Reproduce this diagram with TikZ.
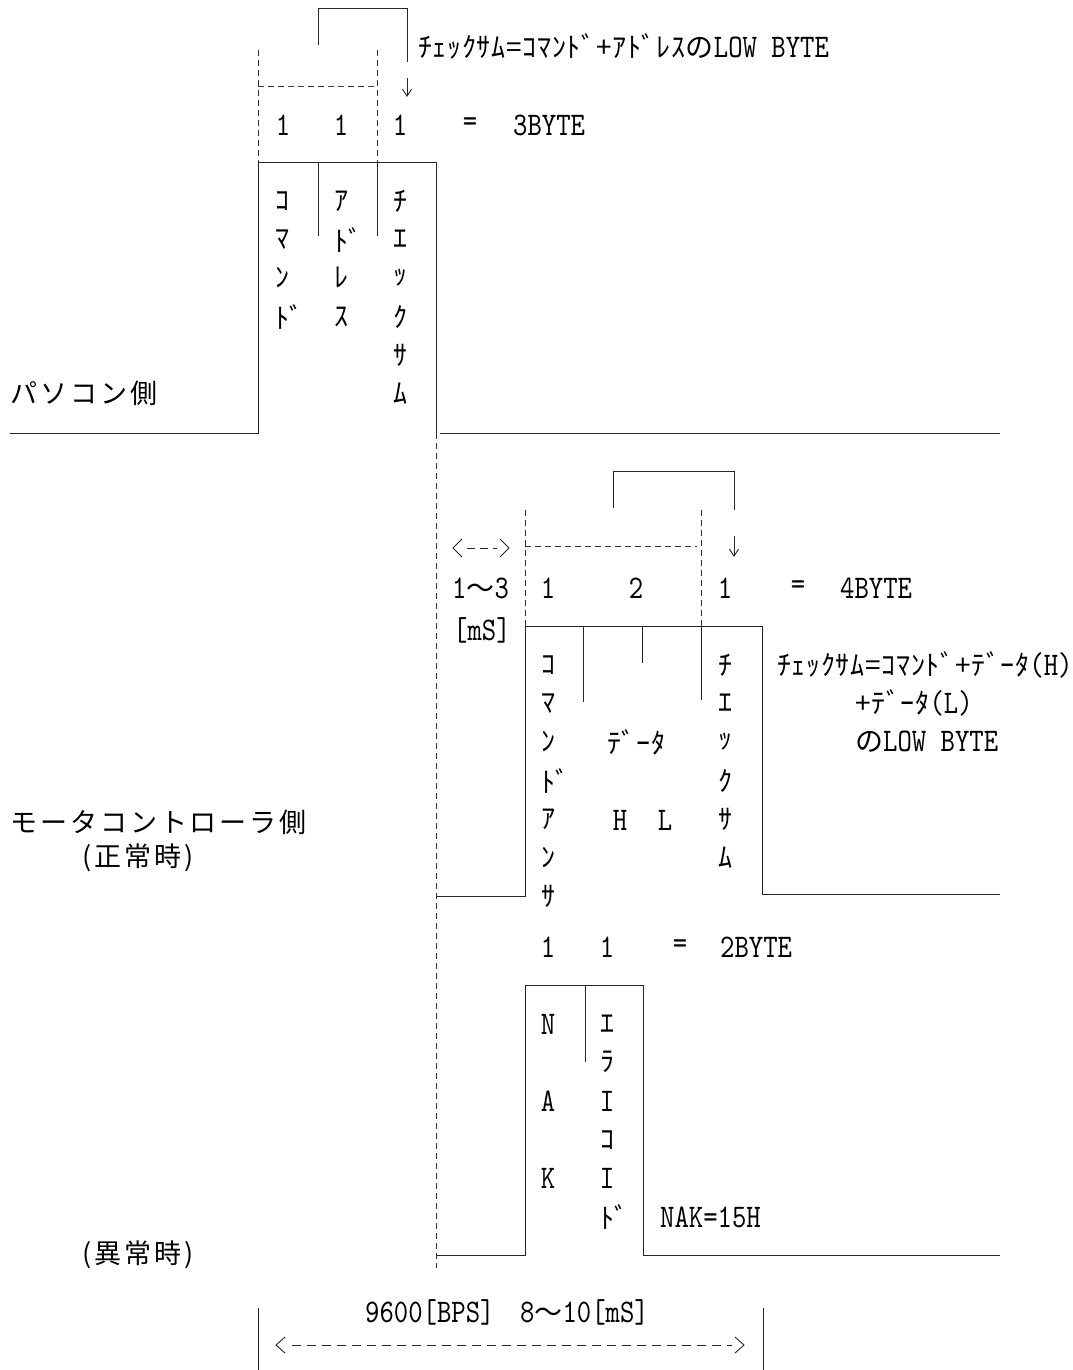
\documentclass[tikz,border=0pt]{standalone}
\usepackage{fontspec}
\usetikzlibrary{arrows.meta}
\newfontfamily\kt{Noto Sans CJK JP}
\newfontfamily\ktl[LetterSpace=2.5]{Noto Sans CJK JP}
\newfontfamily\jw[LetterSpace=11]{Noto Sans CJK JP}
\newfontfamily\lat[FakeStretch=0.83]{lmmono10-regular.otf}
\newcommand\ktxt{\ktl\fontsize{28}{32}\selectfont}
\newcommand\ltxt{\lat\fontsize{33}{36}\selectfont}
\newcommand\vcol[4]{%
  \foreach \c [count=\i from 0] in {#4}
    \node[k, anchor=west] (#1\i) at (#2-7, #3+38.5*\i) {\c};}
\tikzset{
  ln/.style={line width=0.9pt, draw=black!85},
  dsh/.style={line width=0.8pt, draw=black!80, dash pattern=on 6pt off 4pt},
  arr/.style={-{Straight Barb[length=7pt,width=9pt]}},
  k/.style={font=\kt\fontsize{28}{32}\selectfont, inner sep=0pt},
  txt/.style={inner sep=0pt, anchor=west},
  lt/.style={font=\ltxt, inner sep=0pt},
  jwt/.style={font=\jw\fontsize{27}{30}\selectfont, inner sep=0pt, anchor=west},
}
\begin{document}
\begin{tikzpicture}[x=1pt,y=-1pt]
\useasboundingbox (0,0) rectangle (1072,1370);
\fill[white] (0,0) rectangle (1072,1370);

% ---------------- PC side ----------------
\draw[ln] (10,433) -- (258,433) -- (258,162) -- (436,162) -- (436,433);
\draw[ln] (440,433) -- (1000,433);
\draw[ln] (318,162) -- (318,236);
\draw[ln] (377,162) -- (377,236);
\draw[dsh] (258,50) -- (258,162);
\draw[dsh] (377,50) -- (377,162);
\draw[dsh] (258,86) -- (377,86);
\draw[ln] (318,45) -- (318,8) -- (407,8) -- (407,62);
\draw[ln,arr] (407,78) -- (407,97);

\node[txt] (cs1) at (418,46) {\ktxt ﾁｪｯｸｻﾑ=ｺﾏﾝﾄﾞ+ｱﾄﾞﾚｽの\ltxt LOW BYTE};
\node[lt] (n1a) at (283,125) {1};
\node[lt] (n1b) at (341,125) {1};
\node[lt] (n1c) at (400,125) {1};
\node[lt] (eq1) at (470,125) {=};
\node[lt,anchor=west] (b3) at (513,125) {3BYTE};
\vcol{ca}{282}{201}{ｺ,ﾏ,ﾝ,ﾄﾞ}
\vcol{cb}{341}{201}{ｱ,ﾄﾞ,ﾚ,ｽ}
\vcol{cc}{400}{201}{ﾁ,ｴ,ｯ,ｸ,ｻ,ﾑ}
\node[jwt] (pc) at (10,393) {パソコン側};

% ---------------- Motor controller (normal) ----------------
\draw[dsh] (436,433) -- (436,1268);
\draw[ln] (436,896) -- (525,896) -- (525,626) -- (762,626) -- (762,894) -- (1000,894);
\draw[ln] (583,626) -- (583,702);
\draw[ln] (642,626) -- (642,663);
\draw[ln] (701,626) -- (701,700);
\draw[dsh] (525,510) -- (525,626);
\draw[dsh] (701,510) -- (701,626);
\draw[dsh] (525,546) -- (697,546);
\draw[ln] (613,508) -- (613,471) -- (734,471) -- (734,510);
\draw[ln,arr] (734,536) -- (734,557);

% <--> 1~3 [mS]
\draw[ln] (462,539) -- (453,548) -- (462,557);
\draw[ln, dash pattern=on 8pt off 5pt] (467,548) -- (497,548);
\draw[ln] (500,539) -- (509,548) -- (500,557);
\node[txt] (t13) at (452,588) {\ltxt 1\ktxt ～\ltxt 3};
\node[lt,anchor=west] (ms1) at (453,630) {[mS]};

\node[lt] (m1) at (548,588) {1};
\node[lt] (m2) at (636,588) {2};
\node[lt] (m3) at (725,588) {1};
\node[lt] (eq2) at (798,588) {=};
\node[lt,anchor=west] (b4) at (840,588) {4BYTE};
\vcol{cd}{548}{665}{ｺ,ﾏ,ﾝ,ﾄﾞ,ｱ,ﾝ,ｻ}
\node[txt] (data) at (607,742) {\ktxt ﾃﾞｰﾀ};
\node[lt] (hh) at (620,820) {H};
\node[lt] (ll) at (665,820) {L};
\vcol{ce}{725}{665}{ﾁ,ｴ,ｯ,ｸ,ｻ,ﾑ}
\node[txt] (cs2) at (777,665) {\ktxt ﾁｪｯｸｻﾑ=ｺﾏﾝﾄﾞ+ﾃﾞｰﾀ\ltxt (H)};
\node[txt] (cs3) at (855,703) {\ktxt +ﾃﾞｰﾀ\ltxt (L)};
\node[txt] (cs4) at (855,742) {\ktxt の\ltxt LOW BYTE};
\node[jwt] (mc) at (10,822) {モータコントローラ側};
\node[jwt] (nm) at (82,858) {(正常時)};

% ---------------- Motor controller (error) ----------------
\draw[ln] (436,1255) -- (525,1255) -- (525,985) -- (643,985) -- (643,1255) -- (1000,1255);
\draw[ln] (585,985) -- (585,1062);
\node[lt] (e1) at (548,947) {1};
\node[lt] (e2) at (607,947) {1};
\node[lt] (eq3) at (680,947) {=};
\node[lt,anchor=west] (b2) at (720,947) {2BYTE};
\node[lt] (na) at (548,1024) {N};
\node[lt] (nb) at (548,1101) {A};
\node[lt] (nc) at (548,1178) {K};
\node[k,anchor=west] (er0) at (600,1024) {ｴ};
\node[k,anchor=west] (er1) at (600,1062) {ﾗ};
\node[lt] (er2) at (607,1101) {I};
\node[k,anchor=west] (er3) at (600,1140) {ｺ};
\node[lt] (er4) at (607,1178) {I};
\node[k,anchor=west] (er5) at (600,1217) {ﾄﾞ};
\node[lt,anchor=west] (nak) at (660,1217) {NAK=15H};
\node[jwt] (ab) at (82,1255) {(異常時)};

% ---------------- bottom ----------------
\node[txt] (bps) at (365,1312) {\ltxt 9600[BPS]};
\node[txt] (ms2) at (520,1312) {\ltxt 8\ktxt ～\ltxt 10[mS]};
\draw[ln] (258,1308) -- (258,1370);
\draw[ln] (763,1308) -- (763,1370);
\draw[ln] (285,1337) -- (276,1345) -- (285,1353);
\draw[ln, dash pattern=on 9pt off 6pt] (292,1345) -- (732,1345);
\draw[ln] (735,1337) -- (744,1345) -- (735,1353);
\end{tikzpicture}
\end{document}
